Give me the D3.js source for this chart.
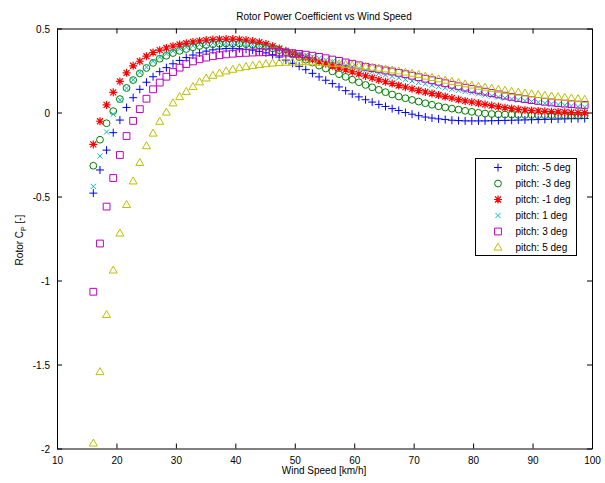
<!DOCTYPE html>
<html>
<head>
<meta charset="utf-8">
<script src="https://cdn.jsdelivr.net/npm/d3@7/dist/d3.min.js"></script>
<style>
  html, body { margin: 0; padding: 0; background: #fff; }
  svg { display: block; }
  text { font-family: "Liberation Sans", Arial, sans-serif; fill: #000; }
</style>
</head>
<body>
<svg id="chart" width="605" height="483"></svg>
<script>
// Wind speed samples [km/h]
const windSpeed = [
  16.11, 17.23, 18.34, 19.46, 20.58, 21.70, 22.81, 23.93, 25.05, 26.16,
  27.28, 28.40, 29.51, 30.63, 31.75, 32.87, 33.98, 35.10, 36.22, 37.33,
  38.45, 39.57, 40.68, 41.80, 42.92, 44.04, 45.15, 46.27, 47.39, 48.50,
  49.62, 50.74, 51.85, 52.97, 54.09, 55.21, 56.32, 57.44, 58.56, 59.67,
  60.79, 61.91, 63.02, 64.14, 65.26, 66.38, 67.49, 68.61, 69.73, 70.84,
  71.96, 73.08, 74.19, 75.31, 76.43, 77.55, 78.66, 79.78, 80.90, 82.01,
  83.13, 84.25, 85.36, 86.48, 87.60, 88.72, 89.83, 90.95, 92.07, 93.18,
  94.30, 95.42, 96.53, 97.65, 98.77
];

// Rotor power coefficient for each blade pitch
const cpPitchM5 = [
  -0.48, -0.342, -0.224, -0.12, -0.045, 0.03, 0.088, 0.138, 0.18, 0.213,
  0.243, 0.267, 0.29, 0.31, 0.327, 0.342, 0.355, 0.365, 0.373, 0.378,
  0.381, 0.382, 0.38, 0.376, 0.371, 0.364, 0.355, 0.344, 0.33, 0.312,
  0.293, 0.275, 0.255, 0.233, 0.212, 0.192, 0.172, 0.152, 0.13, 0.11,
  0.093, 0.076, 0.062, 0.048, 0.036, 0.023, 0.012, 0.0, -0.01, -0.019,
  -0.027, -0.033, -0.038, -0.042, -0.046, -0.048, -0.05, -0.05, -0.05, -0.05,
  -0.049, -0.048, -0.047, -0.046, -0.045, -0.044, -0.043, -0.042, -0.041, -0.04,
  -0.039, -0.038, -0.037, -0.037, -0.036
];
const cpPitchM3 = [
  -0.317, -0.162, -0.064, 0.008, 0.08, 0.146, 0.193, 0.233, 0.265, 0.295,
  0.32, 0.338, 0.354, 0.367, 0.378, 0.388, 0.396, 0.402, 0.406, 0.409,
  0.411, 0.411, 0.41, 0.407, 0.403, 0.398, 0.391, 0.382, 0.371, 0.359,
  0.345, 0.33, 0.314, 0.297, 0.279, 0.262, 0.245, 0.228, 0.212, 0.195,
  0.18, 0.164, 0.15, 0.135, 0.121, 0.107, 0.095, 0.085, 0.075, 0.065,
  0.055, 0.046, 0.037, 0.03, 0.023, 0.017, 0.01, 0.004, -0.002, -0.006,
  -0.009, -0.011, -0.012, -0.013, -0.014, -0.015, -0.015, -0.016, -0.016, -0.016,
  -0.017, -0.017, -0.017, -0.017, -0.017
];
const cpPitchM1 = [
  -0.19, -0.052, 0.045, 0.12, 0.185, 0.236, 0.278, 0.305, 0.335, 0.357,
  0.371, 0.384, 0.395, 0.405, 0.412, 0.42, 0.426, 0.431, 0.434, 0.436,
  0.437, 0.437, 0.435, 0.431, 0.425, 0.418, 0.408, 0.395, 0.381, 0.367,
  0.353, 0.34, 0.327, 0.315, 0.302, 0.29, 0.278, 0.266, 0.254, 0.242,
  0.23, 0.218, 0.206, 0.194, 0.183, 0.172, 0.161, 0.151, 0.141, 0.131,
  0.122, 0.113, 0.104, 0.095, 0.086, 0.077, 0.069, 0.062, 0.055, 0.048,
  0.041, 0.035, 0.029, 0.024, 0.019, 0.015, 0.012, 0.009, 0.007, 0.005,
  0.003, 0.002, 0.0, -0.001, -0.002
];
const cpPitchP1 = [
  -0.44, -0.26, -0.116, -0.01, 0.075, 0.145, 0.195, 0.238, 0.27, 0.305,
  0.33, 0.35, 0.366, 0.379, 0.389, 0.398, 0.405, 0.41, 0.413, 0.415,
  0.416, 0.416, 0.414, 0.41, 0.405, 0.399, 0.392, 0.384, 0.376, 0.368,
  0.359, 0.35, 0.341, 0.332, 0.322, 0.312, 0.302, 0.292, 0.282, 0.272,
  0.262, 0.252, 0.243, 0.233, 0.224, 0.215, 0.206, 0.197, 0.188, 0.179,
  0.171, 0.163, 0.155, 0.147, 0.139, 0.132, 0.125, 0.118, 0.111, 0.104,
  0.098, 0.092, 0.086, 0.08, 0.075, 0.07, 0.065, 0.06, 0.055, 0.051,
  0.047, 0.043, 0.039, 0.035, 0.032
];
const cpPitchP3 = [
  -1.067, -0.78, -0.56, -0.39, -0.253, -0.14, -0.05, 0.02, 0.082, 0.138,
  0.178, 0.213, 0.241, 0.267, 0.288, 0.304, 0.317, 0.327, 0.335, 0.341,
  0.346, 0.35, 0.353, 0.355, 0.357, 0.358, 0.359, 0.359, 0.358, 0.356,
  0.353, 0.349, 0.344, 0.338, 0.331, 0.323, 0.315, 0.307, 0.298, 0.29,
  0.281, 0.272, 0.264, 0.257, 0.25, 0.244, 0.236, 0.228, 0.219, 0.21,
  0.201, 0.192, 0.183, 0.174, 0.165, 0.156, 0.148, 0.14, 0.132, 0.124,
  0.116, 0.108, 0.1, 0.093, 0.086, 0.08, 0.074, 0.069, 0.064, 0.06,
  0.056, 0.053, 0.05, 0.047, 0.045
];
const cpPitchP5 = [
  -1.97, -1.545, -1.205, -0.94, -0.72, -0.55, -0.41, -0.30, -0.20, -0.125,
  -0.055, 0.0, 0.055, 0.092, 0.123, 0.152, 0.18, 0.203, 0.219, 0.233,
  0.245, 0.255, 0.264, 0.271, 0.278, 0.283, 0.288, 0.292, 0.295, 0.297,
  0.298, 0.299, 0.3, 0.299, 0.297, 0.294, 0.291, 0.288, 0.284, 0.28,
  0.276, 0.272, 0.267, 0.262, 0.257, 0.251, 0.245, 0.238, 0.231, 0.224,
  0.214, 0.206, 0.198, 0.19, 0.183, 0.176, 0.168, 0.161, 0.154, 0.148,
  0.142, 0.136, 0.13, 0.124, 0.119, 0.114, 0.109, 0.104, 0.1, 0.096,
  0.092, 0.088, 0.084, 0.08, 0.076
];

const seriesLabels = ["pitch: -5 deg", "pitch: -3 deg", "pitch: -1 deg",
                      "pitch: 1 deg", "pitch: 3 deg", "pitch: 5 deg"];
const xTickValues = [10, 20, 30, 40, 50, 60, 70, 80, 90, 100];
const yTickValues = [-2, -1.5, -1, -0.5, 0, 0.5];
const titleText = "Rotor Power Coefficient vs Wind Speed";
const xLabelText = "Wind Speed [km/h]";

// marker shapes, drawn around (0,0)
const markerPaths = {
  plus: "M-4,0H4M0,-4V4",
  circle: null,
  star: "M-4,0H4M0,-4V4M-3,-3L3,3M-3,3L3,-3",
  cross: "M-2.6,-2.6L2.6,2.6M-2.6,2.6L2.6,-2.6",
  square: "M-3.4,-3.4H3.4V3.4H-3.4Z",
  triangle: "M0,-4.4L4,2.6H-4Z"
};

const series = [
  { values: cpPitchM5, color: "#0000ff", marker: "plus", width: 1 },
  { values: cpPitchM3, color: "#008000", marker: "circle", width: 1 },
  { values: cpPitchM1, color: "#ff0000", marker: "star", width: 1.2 },
  { values: cpPitchP1, color: "#00bfbf", marker: "cross", width: 1 },
  { values: cpPitchP3, color: "#bf00bf", marker: "square", width: 1 },
  { values: cpPitchP5, color: "#bfbf00", marker: "triangle", width: 1 }
].map((s, i) => ({ ...s, label: seriesLabels[i] }));

const plot = { left: 57, right: 592, top: 28.5, bottom: 448.5 };

const svg = d3.select("#chart");
svg.append("rect").attr("width", 605).attr("height", 483).attr("fill", "#fff");

const x = d3.scaleLinear().domain([10, 100]).range([plot.left, plot.right]);
const y = d3.scaleLinear().domain([-2, 0.5]).range([plot.bottom, plot.top]);

function drawMarker(sel, s) {
  if (s.marker === "circle") {
    sel.append("circle").attr("r", 3.4)
      .attr("fill", "none").attr("stroke", s.color).attr("stroke-width", s.width);
  } else {
    sel.append("path").attr("d", markerPaths[s.marker])
      .attr("fill", "none").attr("stroke", s.color).attr("stroke-width", s.width);
  }
}

// axes: ticks point inward on all four sides
const fmt = d => String(d);
const gBottom = svg.append("g").attr("transform", `translate(0,${plot.bottom})`)
  .call(d3.axisBottom(x).tickValues(xTickValues).tickFormat(fmt).tickSizeInner(-5).tickSizeOuter(0).tickPadding(8));
const gTop = svg.append("g").attr("transform", `translate(0,${plot.top})`)
  .call(d3.axisTop(x).tickValues(xTickValues).tickFormat("").tickSizeInner(-5).tickSizeOuter(0));
const gLeft = svg.append("g").attr("transform", `translate(${plot.left},0)`)
  .call(d3.axisLeft(y).tickValues(yTickValues).tickFormat(fmt).tickSizeInner(-5).tickSizeOuter(0).tickPadding(7));
const gRight = svg.append("g").attr("transform", `translate(${plot.right},0)`)
  .call(d3.axisRight(y).tickValues(yTickValues).tickFormat("").tickSizeInner(-5).tickSizeOuter(0));

[gBottom, gTop, gLeft, gRight].forEach(g => {
  g.select(".domain").attr("stroke", "#000").attr("stroke-width", 1);
  g.selectAll(".tick line").attr("stroke", "#000").attr("stroke-width", 1);
  g.selectAll(".tick text").attr("font-size", 10)
    .attr("font-family", "'Liberation Sans', Arial, sans-serif").attr("fill", "#000");
});
gLeft.selectAll(".tick text").attr("dy", "0.35em");

// data markers, plotted in series order
series.forEach(s => {
  const g = svg.append("g").attr("class", "series");
  const pts = g.selectAll("g").data(windSpeed.map((w, i) => [w, s.values[i]]))
    .join("g")
    .attr("transform", d => `translate(${x(d[0])},${y(d[1])})`);
  drawMarker(pts, s);
});

// title and axis labels
svg.append("text").attr("x", 324).attr("y", 20).attr("text-anchor", "middle")
  .attr("font-size", 10).text(titleText);
svg.append("text").attr("x", 324).attr("y", 474).attr("text-anchor", "middle")
  .attr("font-size", 10).text(xLabelText);
const yl = svg.append("text").attr("transform", "translate(23,240) rotate(-90)")
  .attr("text-anchor", "middle").attr("font-size", 10);
yl.append("tspan").text("Rotor C");
yl.append("tspan").attr("font-size", 7).attr("dy", 3).text("P");
yl.append("tspan").attr("dy", -3).text(" [-]");

// legend
const lg = svg.append("g").attr("transform", "translate(475.5,158.5)");
lg.append("rect").attr("width", 101).attr("height", 97)
  .attr("fill", "#fff").attr("stroke", "#000").attr("stroke-width", 1);
series.forEach((s, i) => {
  const row = lg.append("g").attr("transform", `translate(0,${9 + i * 16})`);
  drawMarker(row.append("g").attr("transform", "translate(22.5,0)"), s);
  row.append("text").attr("x", 40).attr("y", 0).attr("dy", "0.35em")
    .attr("font-size", 10).text(s.label);
});
</script>
</body>
</html>
